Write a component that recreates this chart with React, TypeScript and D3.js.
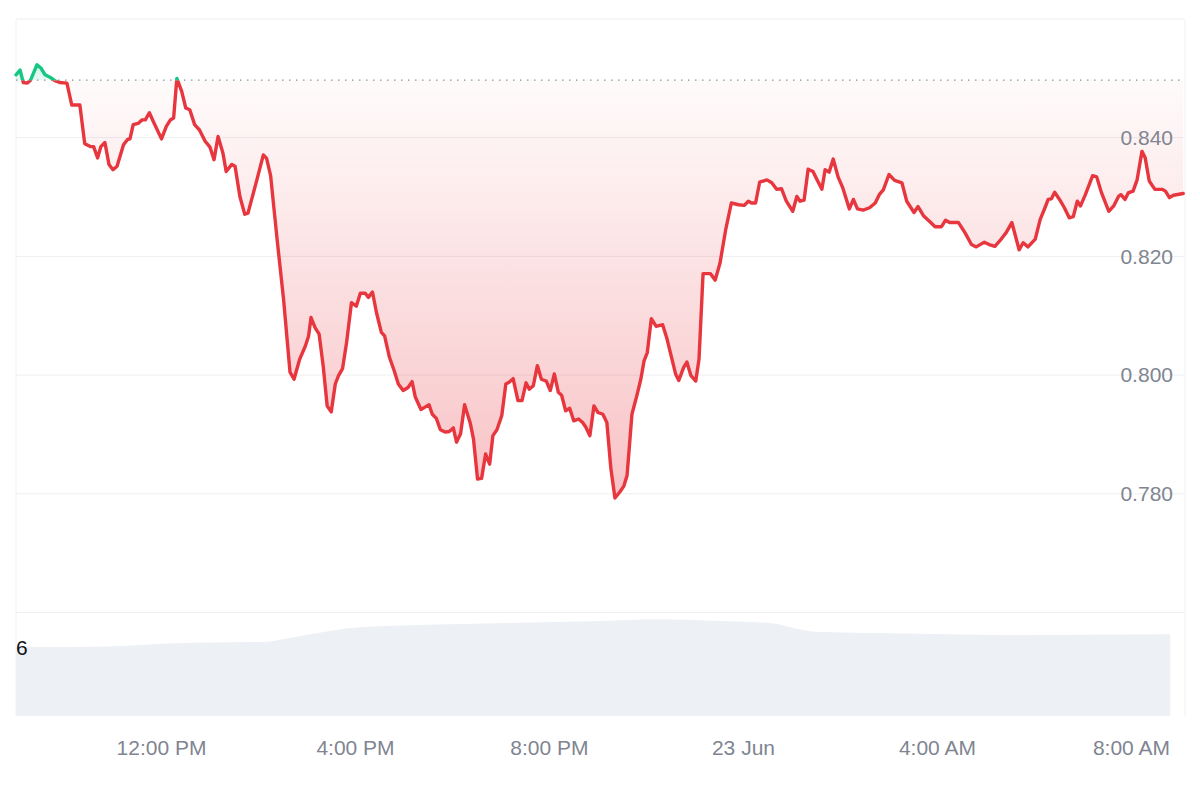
import * as d3 from "d3";

// price vertices: [minutes after 22 Jun 09:00, price]
const PRICE_POINTS: [number, number][] = [
  [0,0.8506],[5,0.8514],[9,0.8493],[14,0.8492],[18,0.8497],[26,0.8523],[31,0.8517],[36,0.8506],[42,0.8502],[48,0.8496],
  [54,0.8493],[63,0.8492],[69,0.8455],[79,0.8455],[85,0.8390],[92,0.8385],[96,0.8385],[101,0.8366],[105,0.8385],[110,0.8392],
  [115,0.8355],[120,0.8346],[125,0.8352],[133,0.8388],[138,0.8397],[141,0.8398],[145,0.8422],[151,0.8424],[156,0.8430],[160,0.8430],
  [165,0.8442],[170,0.8427],[180,0.8398],[186,0.8419],[191,0.8430],[195,0.8433],[199,0.8500],[205,0.8478],[210,0.8450],[215,0.8447],
  [221,0.8422],[227,0.8413],[234,0.8394],[240,0.8384],[245,0.8363],[250,0.8402],[256,0.8374],[260,0.8343],[267,0.8355],[271,0.8352],
  [277,0.8301],[283,0.8271],[287,0.8273],[298,0.8329],[306,0.8371],[310,0.8365],[315,0.8336],[323,0.8229],[331,0.8128],[339,0.8005],
  [344,0.7993],[351,0.8027],[358,0.8049],[362,0.8066],[365,0.8097],[370,0.8080],[375,0.8069],[380,0.8016],[385,0.7948],[390,0.7938],
  [395,0.7985],[399,0.7999],[404,0.8011],[409,0.8055],[415,0.8122],[421,0.8116],[426,0.8138],[432,0.8138],[436,0.8131],[441,0.8140],
  [446,0.8105],[452,0.8072],[456,0.8066],[462,0.8030],[468,0.8007],[473,0.7985],[479,0.7974],[485,0.7979],[490,0.7989],[494,0.7963],
  [501,0.7942],[506,0.7946],[511,0.7950],[515,0.7934],[520,0.7927],[525,0.7908],[531,0.7904],[536,0.7905],[541,0.7911],[545,0.7887],
  [550,0.7901],[555,0.7950],[562,0.7919],[566,0.7892],[571,0.7825],[576,0.7826],[581,0.7867],[586,0.7850],[590,0.7898],[595,0.7908],
  [601,0.7932],[606,0.7985],[610,0.7988],[615,0.7994],[621,0.7957],[626,0.7957],[631,0.7987],[635,0.7976],[640,0.7982],[645,0.8016],
  [650,0.7993],[656,0.7990],[661,0.7974],[666,0.8002],[671,0.7971],[675,0.7966],[680,0.7940],[685,0.7944],[690,0.7923],[696,0.7926],
  [701,0.7920],[705,0.7912],[710,0.7898],[715,0.7948],[720,0.7937],[726,0.7934],[731,0.7920],[736,0.7842],[741,0.7793],[747,0.7803],
  [752,0.7813],[756,0.7831],[762,0.7934],[768,0.7965],[773,0.7993],[777,0.8024],[781,0.8038],[786,0.8095],[792,0.8082],[800,0.8085],
  [805,0.8063],[811,0.8030],[816,0.8002],[820,0.7991],[826,0.8013],[830,0.8022],[835,0.7999],[841,0.7990],[845,0.8027],[850,0.8171],
  [859,0.8171],[865,0.8160],[871,0.8189],[878,0.8245],[885,0.8290],[894,0.8287],[901,0.8286],[906,0.8293],[910,0.8290],[915,0.8290],
  [920,0.8325],[929,0.8329],[935,0.8324],[941,0.8313],[947,0.8314],[953,0.8293],[961,0.8276],[966,0.8301],[970,0.8293],[975,0.8295],
  [980,0.8347],[986,0.8343],[991,0.8329],[997,0.8313],[1001,0.8346],[1006,0.8342],[1011,0.8364],[1017,0.8334],[1023,0.8315],[1031,0.8280],
  [1036,0.8296],[1041,0.8280],[1048,0.8278],[1056,0.8282],[1063,0.8290],[1068,0.8304],[1073,0.8312],[1080,0.8338],[1087,0.8328],[1096,0.8324],
  [1102,0.8293],[1111,0.8274],[1116,0.8284],[1123,0.8268],[1131,0.8258],[1137,0.8250],[1145,0.8250],[1150,0.8261],[1155,0.8257],[1166,0.8257],
  [1174,0.8240],[1182,0.8220],[1188,0.8216],[1198,0.8224],[1204,0.8220],[1211,0.8217],[1217,0.8226],[1225,0.8240],[1232,0.8257],[1236,0.8237],
  [1241,0.8211],[1246,0.8223],[1252,0.8216],[1261,0.8229],[1267,0.8262],[1273,0.8282],[1277,0.8296],[1281,0.8297],[1285,0.8308],[1291,0.8296],
  [1297,0.8282],[1303,0.8265],[1308,0.8267],[1313,0.8293],[1317,0.8285],[1323,0.8304],[1332,0.8336],[1337,0.8334],[1343,0.8307],[1352,0.8276],
  [1358,0.8285],[1364,0.8301],[1367,0.8304],[1372,0.8296],[1376,0.8307],[1382,0.8310],[1387,0.8329],[1393,0.8377],[1397,0.8366],[1402,0.8327],
  [1409,0.8313],[1418,0.8313],[1422,0.8310],[1427,0.8299],[1432,0.8303],[1444,0.8306],
];

// relative volume (0-100) along the same time axis
const VOLUME_POINTS: [number, number][] = [
  [0,67.4],[99,67.9],[198,71.3],[312,72.8],[330,75.2],[359,79.4],[425,87.0],[553,90.2],[722,93.1],
  [793,94.8],[865,93.4],[935,90.9],[969,85.0],[987,82.6],[1082,81.1],[1220,79.4],[1428,80.1],
];

const OPEN_PRICE = 0.8497;
const PRICE_TICKS = [0.76, 0.78, 0.80, 0.82, 0.84, 0.86];
const LABELED_TICKS = [0.78, 0.80, 0.82, 0.84];
const VOLUME_LABEL = "6";

const START = new Date(2025, 5, 22, 9, 0);
const END_MINUTES = 1445;

const RED = "#e8363f";
const GREEN = "#16c784";

export default function App() {
  const W = 1200, H = 800;
  const L = 16, R = 1184, T = 19, PB = 612.5, VB = 716;

  const t = (m: number) => new Date(START.getTime() + m * 60000);
  const x = d3.scaleTime().domain([START, t(END_MINUTES)]).range([L, R]);
  const y = d3.scaleLinear().domain([0.76, 0.86]).range([PB, T]);
  const yV = d3.scaleLinear().domain([0, 100]).range([VB, 614]);
  const yBase = y(OPEN_PRICE);

  const line = d3.line<[number, number]>().x(d => x(t(d[0]))).y(d => y(d[1]));
  const area = d3.area<[number, number]>().x(d => x(t(d[0]))).y0(yBase).y1(d => y(d[1]));
  const volArea = d3.area<[number, number]>().x(d => x(t(d[0]))).y0(VB).y1(d => yV(d[1])).curve(d3.curveMonotoneX);

  const ticks = x.ticks(d3.timeHour.every(4)!);
  const fmt = (d: Date) => d.getHours() === 0 ? d3.timeFormat("%-d %b")(d) : d3.timeFormat("%-I:%M %p")(d);
  const font = "'Liberation Sans', Arial, sans-serif";

  return (
    <svg width={W} height={H} style={{ position: "absolute", left: 0, top: 0, background: "#fff" }}>
      <defs>
        <clipPath id="above"><rect x={0} y={0} width={W} height={yBase} /></clipPath>
        <clipPath id="below"><rect x={0} y={yBase} width={W} height={H - yBase} /></clipPath>
        <linearGradient id="redFill" gradientUnits="userSpaceOnUse" x1={0} y1={yBase} x2={0} y2={PB}>
          <stop offset="0" stopColor={RED} stopOpacity={0.02} />
          <stop offset="1" stopColor={RED} stopOpacity={0.38} />
        </linearGradient>
        <linearGradient id="greenFill" gradientUnits="userSpaceOnUse" x1={0} y1={T} x2={0} y2={yBase}>
          <stop offset="0" stopColor={GREEN} stopOpacity={0.4} />
          <stop offset="1" stopColor={GREEN} stopOpacity={0.1} />
        </linearGradient>
      </defs>
      <rect width={W} height={H} fill="#fff" />

      {/* volume */}
      <path d={volArea(VOLUME_POINTS)!} fill="#edf0f4" />
      <text x={L} y={yV(VOLUME_POINTS[0][1])} dy="0.35em" fontFamily={font} fontSize={21} fill="#111">{VOLUME_LABEL}</text>

      {/* grid */}
      {PRICE_TICKS.map(v => (
        <line key={v} x1={L} x2={R} y1={y(v)} y2={y(v)} stroke="#eceef1" strokeWidth={1} />
      ))}
      <line x1={L} x2={L} y1={T} y2={VB} stroke="#f0f1f3" />
      <line x1={R + 1} x2={R + 1} y1={T} y2={VB} stroke="#f0f1f3" />

      {/* fills */}
      <path d={area(PRICE_POINTS)!} fill="url(#redFill)" clipPath="url(#below)" />
      <path d={area(PRICE_POINTS)!} fill="url(#greenFill)" clipPath="url(#above)" />

      <line x1={L} x2={R} y1={yBase} y2={yBase} stroke="#8e939b" strokeWidth={1.4} strokeDasharray="1.5,5.5" />

      {/* price line */}
      <path d={line(PRICE_POINTS)!} fill="none" stroke={RED} strokeWidth={3.4} strokeLinejoin="round" strokeLinecap="round" clipPath="url(#below)" />
      <path d={line(PRICE_POINTS)!} fill="none" stroke={GREEN} strokeWidth={3.4} strokeLinejoin="round" strokeLinecap="round" clipPath="url(#above)" />

      {/* y labels */}
      {LABELED_TICKS.map(v => (
        <text key={v} x={1173} y={y(v)} dy="0.35em" textAnchor="end" fontFamily={font} fontSize={21} fill="#808591">
          {v.toFixed(3)}
        </text>
      ))}

      {/* x labels */}
      {ticks.map(d => (
        <text key={+d} x={x(d)} y={748} dy="0.35em" textAnchor="middle" fontFamily={font} fontSize={21} fill="#808591">
          {fmt(d)}
        </text>
      ))}
    </svg>
  );
}
